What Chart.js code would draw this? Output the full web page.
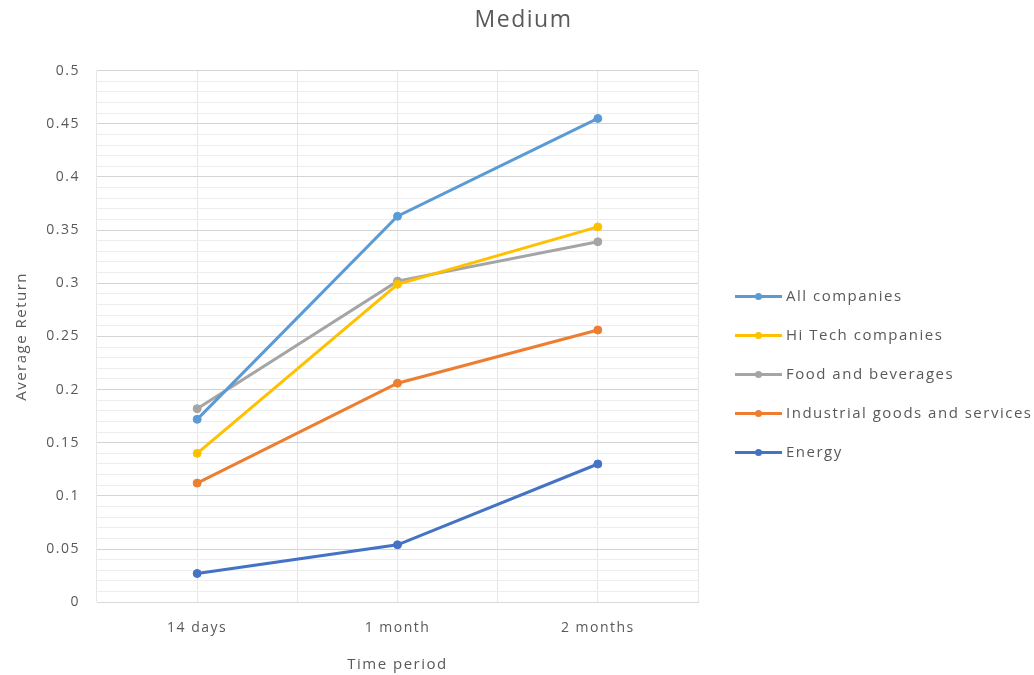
<!DOCTYPE html>
<html>
<head>
<meta charset="utf-8">
<title>Medium</title>
<script src="https://cdn.jsdelivr.net/npm/chart.js@4.4.1/dist/chart.umd.min.js"></script>
<style>
  html, body { margin: 0; padding: 0; background: #ffffff; }
  #wrap { width: 1034px; height: 675px; }
</style>
</head>
<body>
<div id="wrap"><canvas id="chart" width="1034" height="675"></canvas></div>
<script>
// Time periods on the x axis
const categories = ['14 days', '1 month', '2 months'];

// Average return per sector
const allCompanies = [0.172, 0.363, 0.455];
const hiTechCompanies = [0.140, 0.299, 0.353];
const foodAndBeverages = [0.182, 0.302, 0.339];
const industrialGoods = [0.112, 0.206, 0.256];
const energy = [0.027, 0.054, 0.130];

const seriesNames = ['All companies', 'Hi Tech companies', 'Food and beverages', 'Industrial goods and services', 'Energy'];
const seriesValues = [allCompanies, hiTechCompanies, foodAndBeverages, industrialGoods, energy];
const seriesColors = ['#5B9BD5', '#FFC000', '#A5A5A5', '#ED7D31', '#4472C4'];

// Y axis: labelled every 0.05, light grid every 0.01
const yMin = 0;
const yMax = 0.5;
const yMajorStep = 0.05;
const yMinorStep = 0.01;

const textColor = '#595959';
const fontFamily = '"Open Sans", "DejaVu Sans", sans-serif';
const letterSpacing = '1.5px';

const datasets = seriesNames.map((name, i) => ({
  label: name,
  data: seriesValues[i],
  borderColor: seriesColors[i],
  backgroundColor: seriesColors[i],
  borderWidth: 3,
  pointRadius: 4,
  pointBorderWidth: 1,
  pointBackgroundColor: seriesColors[i],
  pointBorderColor: seriesColors[i],
  tension: 0,
  fill: false
}));

function isMajor(v) {
  return Math.round(v / yMinorStep) % Math.round(yMajorStep / yMinorStep) === 0;
}

// Slightly wider text spacing for every label on the canvas
const wideText = {
  id: 'wideText',
  beforeUpdate(chart) { chart.ctx.letterSpacing = letterSpacing; },
  beforeDraw(chart) { chart.ctx.letterSpacing = letterSpacing; }
};

// Legend drawn to the right of the plot: line sample with a centred marker
const sideLegend = {
  id: 'sideLegend',
  afterDraw(chart) {
    const { ctx, chartArea } = chart;
    const x0 = chartArea.right + 37;
    const lineLen = 47;
    const rowGap = 39;
    const yStart = chartArea.top + 226;
    ctx.save();
    ctx.font = '15px ' + fontFamily;
    ctx.textBaseline = 'middle';
    ctx.textAlign = 'left';
    seriesNames.forEach((name, i) => {
      const y = yStart + i * rowGap;
      ctx.strokeStyle = seriesColors[i];
      ctx.lineWidth = 3;
      ctx.beginPath();
      ctx.moveTo(x0, y);
      ctx.lineTo(x0 + lineLen, y);
      ctx.stroke();
      ctx.fillStyle = seriesColors[i];
      ctx.beginPath();
      ctx.arc(x0 + lineLen / 2, y, 3.5, 0, Math.PI * 2);
      ctx.fill();
      ctx.fillStyle = textColor;
      ctx.fillText(name, x0 + lineLen + 4, y);
    });
    ctx.restore();
  }
};

new Chart(document.getElementById('chart'), {
  type: 'line',
  data: { labels: categories, datasets },
  plugins: [wideText, sideLegend],
  options: {
    responsive: false,
    animation: false,
    layout: { padding: { left: 13, right: 0, top: 0, bottom: 0 } },
    plugins: {
      legend: { display: false },
      tooltip: { enabled: false },
      title: {
        display: true,
        text: 'Medium',
        color: textColor,
        font: { family: fontFamily, size: 23, weight: 'normal' },
        padding: { top: 7, bottom: 36 }
      }
    },
    scales: {
      x: {
        type: 'category',
        offset: true,
        grid: { display: true, offset: true, color: '#E6E6E6', drawTicks: false },
        border: { display: true, color: '#D9D9D9', width: 1 },
        ticks: { color: textColor, font: { family: fontFamily, size: 14 }, padding: 17 },
        title: {
          display: true,
          text: 'Time period',
          color: textColor,
          font: { family: fontFamily, size: 15 },
          padding: { top: 3, bottom: 1 }
        }
      },
      xMid: {
        type: 'category',
        position: 'bottom',
        offset: true,
        grid: { display: true, offset: false, color: '#E6E6E6', drawTicks: false },
        border: { display: false },
        ticks: { display: false }
      },
      y: {
        min: yMin,
        max: yMax,
        grid: {
          drawTicks: false,
          color: (c) => isMajor(c.tick.value) ? '#D4D4D4' : '#EDEDED',
          lineWidth: 1
        },
        border: { display: false },
        ticks: {
          stepSize: yMinorStep,
          autoSkip: false,
          padding: 17,
          color: textColor,
          font: { family: fontFamily, size: 14 },
          callback: (v) => isMajor(v) ? String(Math.round(v * 100) / 100) : ''
        },
        title: {
          display: true,
          text: 'Average Return',
          color: textColor,
          font: { family: fontFamily, size: 15 },
          padding: { top: 0, bottom: 8 }
        },
        afterFit(scale) { scale.width = 84; }
      },
      // Empty strip on the right that holds the legend
      legendSpace: {
        type: 'linear',
        position: 'right',
        display: true,
        grid: { display: false },
        border: { display: false },
        ticks: { display: false },
        afterFit(scale) { scale.width = 336; }
      }
    }
  }
});
</script>
</body>
</html>
